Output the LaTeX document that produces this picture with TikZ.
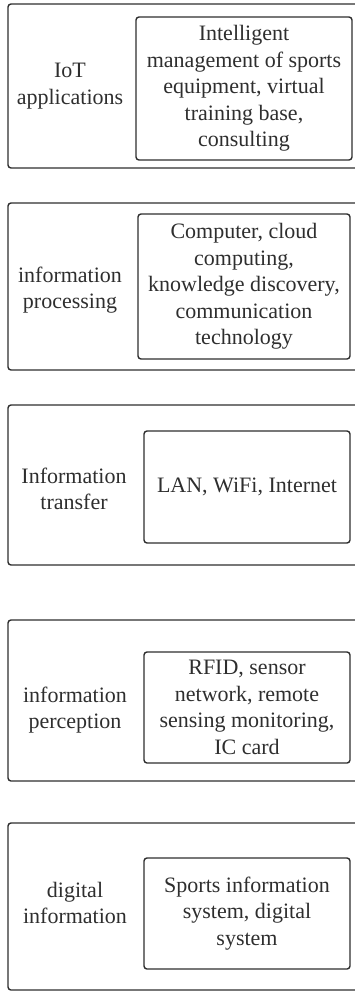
\documentclass[tikz,border=0pt]{standalone}
\usepackage{fontspec}
\setmainfont{Liberation Serif}
\definecolor{ink}{HTML}{2E2E2E}
\tikzset{
  outerbox/.style={draw=ink, line width=1.4pt, rounded corners=3pt, inner sep=0pt, minimum width=357pt},
  innerbox/.style={draw=ink, line width=1.4pt, rounded corners=3pt, inner sep=0pt, align=center, text=ink,
    font=\fontsize{22}{26.5}\selectfont},
  lefttext/.style={align=center, text=ink, inner sep=0pt, font=\fontsize{22}{26.5}\selectfont}
}
\begin{document}
\begin{tikzpicture}[x=1pt,y=-1pt]
\useasboundingbox (0,0) rectangle (355,992);
\clip (0,0) rectangle (355,992);
% outer boxes
\node[outerbox, minimum height=164pt] (o1) at (186.5,86) {};
\node[outerbox, minimum height=167pt] (o2) at (186.5,286.5) {};
\node[outerbox, minimum height=160pt] (o3) at (186.5,485) {};
\node[outerbox, minimum height=161pt] (o4) at (186.5,700.5) {};
\node[outerbox, minimum height=167pt] (o5) at (186.5,906.5) {};
% inner boxes
\node[innerbox, minimum width=216pt, minimum height=143pt] (i1) at (244,88.5)
  {Intelligent\\management of sports\\equipment, virtual\\training base,\\consulting};
\node[innerbox, minimum width=212pt, minimum height=145pt] (i2) at (244,286.5)
  {Computer, cloud\\computing,\\knowledge discovery,\\communication\\technology};
\node[innerbox, minimum width=206pt, minimum height=112pt] (i3) at (247,487)
  {LAN, WiFi, Internet};
\node[innerbox, minimum width=206pt, minimum height=111pt] (i4) at (247,707.5)
  {RFID, sensor\\network, remote\\sensing monitoring,\\IC card};
\node[innerbox, minimum width=206pt, minimum height=111pt] (i5) at (247,913.5)
  {Sports information\\system, digital\\system};
% left labels
\node[lefttext] (l1) at (70,86) {IoT\\applications};
\node[lefttext] (l2) at (70,290) {information\\processing};
\node[lefttext] (l3) at (74,489) {Information\\transfer};
\node[lefttext] (l4) at (75,710) {information\\perception};
\node[lefttext] (l5) at (75,903) {digital\\information};
\end{tikzpicture}
\end{document}
